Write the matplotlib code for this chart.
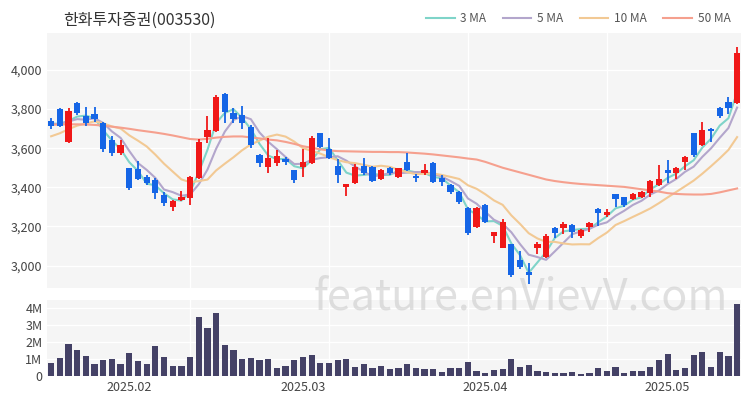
import numpy as np
import matplotlib
matplotlib.use("Agg")
import matplotlib.pyplot as plt

plt.rcParams['font.family'] = ['Noto Sans CJK KR', 'DejaVu Sans']

title = "한화투자증권(003530)"

opens = [3740, 3800, 3630, 3830, 3764, 3774, 3728, 3641, 3574, 3497,
         3492, 3451, 3436, 3359, 3297, 3333, 3343, 3446, 3656, 3689,
         3877, 3780, 3770, 3708, 3564, 3503, 3523, 3544, 3487, 3503,
         3523, 3677, 3595, 3508, 3400, 3420, 3508, 3503, 3441, 3497,
         3451, 3528, 3456, 3472, 3523, 3446, 3410, 3374, 3292, 3195,
         3308, 3149, 3092, 3108, 3026, 2969, 3092, 3041, 3190, 3190,
         3205, 3149, 3195, 3287, 3256, 3364, 3349, 3338, 3349, 3369,
         3410, 3487, 3472, 3528, 3677, 3615, 3700, 3805, 3836, 3831]
closes = [3713, 3715, 3790, 3780, 3730, 3749, 3595, 3574, 3615, 3395,
          3441, 3420, 3369, 3318, 3328, 3349, 3451, 3631, 3692, 3863,
          3786, 3749, 3728, 3615, 3523, 3549, 3559, 3528, 3436, 3528,
          3651, 3605, 3549, 3461, 3415, 3503, 3472, 3431, 3487, 3472,
          3497, 3487, 3446, 3487, 3426, 3426, 3374, 3323, 3165, 3292,
          3220, 3169, 3220, 2949, 2990, 2949, 3108, 3149, 3164, 3210,
          3169, 3180, 3215, 3267, 3272, 3338, 3308, 3364, 3374, 3431,
          3441, 3472, 3497, 3554, 3564, 3692, 3690, 3764, 3805, 4087]
highs = [3755, 3805, 3805, 3835, 3810, 3810, 3733, 3660, 3640, 3500,
         3533, 3462, 3450, 3375, 3333, 3380, 3456, 3646, 3764, 3872,
         3880, 3805, 3815, 3720, 3570, 3651, 3590, 3555, 3490, 3595,
         3660, 3680, 3651, 3545, 3418, 3518, 3548, 3508, 3492, 3505,
         3500, 3574, 3470, 3518, 3528, 3462, 3415, 3380, 3297, 3297,
         3313, 3172, 3240, 3112, 3072, 3015, 3118, 3160, 3195, 3220,
         3210, 3185, 3220, 3292, 3290, 3368, 3352, 3370, 3380, 3438,
         3513, 3540, 3503, 3558, 3680, 3733, 3702, 3810, 3862, 4118]
lows = [3700, 3710, 3625, 3770, 3713, 3735, 3580, 3560, 3565, 3385,
        3436, 3410, 3340, 3305, 3280, 3328, 3308, 3440, 3626, 3685,
        3728, 3730, 3700, 3600, 3502, 3472, 3510, 3513, 3420, 3451,
        3518, 3600, 3545, 3420, 3355, 3415, 3465, 3428, 3436, 3465,
        3446, 3482, 3425, 3465, 3420, 3405, 3365, 3315, 3155, 3190,
        3215, 3115, 3088, 2940, 2980, 2908, 3060, 3036, 3140, 3160,
        3140, 3140, 3170, 3200, 3250, 3300, 3300, 3335, 3345, 3350,
        3405, 3420, 3440, 3490, 3555, 3610, 3630, 3755, 3775, 3825]
volumes = [0.74, 1.08, 1.88, 1.54, 1.18, 0.68, 0.92, 1.00, 0.72, 1.32,
           0.86, 0.72, 1.78, 1.12, 0.60, 0.58, 1.14, 3.44, 2.80, 3.70,
           1.84, 1.54, 1.00, 1.08, 0.94, 1.02, 0.48, 0.58, 0.92, 1.12,
           1.24, 0.76, 0.76, 0.92, 1.00, 0.50, 0.68, 0.44, 0.58, 0.40,
           0.44, 0.72, 0.48, 0.40, 0.40, 0.24, 0.44, 0.44, 0.84, 0.32,
           0.20, 0.38, 0.40, 1.00, 0.54, 0.64, 0.32, 0.24, 0.16, 0.18,
           0.24, 0.12, 0.20, 0.48, 0.32, 0.50, 0.16, 0.32, 0.28, 0.50,
           0.92, 1.30, 0.36, 0.48, 1.24, 1.40, 0.52, 1.42, 1.16, 4.20]
# closes before the first visible day, for the short moving averages
prior_closes = [3560, 3580, 3600, 3620, 3640, 3700, 3730, 3720, 3745]
ma50 = [3720, 3721, 3722, 3722, 3721, 3719, 3715, 3710, 3705, 3699,
        3692, 3686, 3680, 3673, 3665, 3656, 3647, 3644, 3648, 3654,
        3658, 3660, 3660, 3655, 3650, 3644, 3640, 3632, 3622, 3610,
        3602, 3594, 3588, 3585, 3584, 3583, 3582, 3581, 3581, 3580,
        3580, 3578, 3575, 3572, 3568, 3563, 3558, 3553, 3547, 3542,
        3530, 3515, 3500, 3488, 3476, 3464, 3452, 3440, 3432, 3426,
        3421, 3417, 3414, 3411, 3408, 3405, 3402, 3396, 3390, 3384,
        3378, 3370, 3366, 3364, 3363, 3363, 3366, 3374, 3384, 3394]
tick_pos = [9, 29, 50, 71]
tick_labels = ["2025.02", "2025.03", "2025.04", "2025.05"]
ma_names = ["3 MA", "5 MA", "10 MA", "50 MA"]
ma_colors = ["#7fd4c9", "#b3a6cc", "#f2c994", "#f5a08e"]

o = np.array(opens)
c = np.array(closes)
h = np.array(highs)
l = np.array(lows)
x = np.arange(len(c))
up = c >= o
red, blue = "#f01818", "#1565e6"
cols = np.where(up, red, blue)

allc = np.concatenate([prior_closes, c])
def sma(n):
    return np.convolve(allc, np.ones(n) / n, mode="valid")[-len(c):]

fig = plt.figure(figsize=(7.5, 4), dpi=100)
ax = fig.add_axes([0.063, 0.28, 0.925, 0.638])
axv = fig.add_axes([0.063, 0.06, 0.925, 0.19])

for a in (ax, axv):
    a.set_facecolor("#f5f5f5")
    for s in a.spines.values():
        s.set_visible(False)
    a.tick_params(length=0, labelsize=9, colors="#444")
    a.set_xlim(-0.45, 79.45)
    for gx in [16, 32, 48, 64]:
        a.axvline(gx, color="white", lw=1, zorder=0)

# moving averages
for n, name, col in zip([3, 5, 10], ma_names[:3], ma_colors[:3]):
    ax.plot(x, sma(n), color=col, lw=1.5, label=name, zorder=2)
ax.plot(x, ma50, color=ma_colors[3], lw=1.5, label=ma_names[3], zorder=2)

# candles
ax.vlines(x, l, h, colors=cols, lw=1.3, zorder=3)
body = np.maximum(np.abs(c - o), 4)
ax.bar(x, body, bottom=np.minimum(o, c), width=0.72, color=cols, zorder=4)

ax.set_ylim(2885, 4190)
ax.set_yticks([3000, 3200, 3400, 3600, 3800, 4000])
ax.set_yticklabels([f"{v:,}" for v in range(3000, 4001, 200)])
ax.grid(axis="y", color="white", lw=1)
ax.set_axisbelow(True)
ax.set_xticks([])

axv.bar(x, np.array(volumes) * 1e6, width=0.72, color="#444166", zorder=3)
axv.set_ylim(0, 4.45e6)
axv.set_yticks([0, 1e6, 2e6, 3e6, 4e6])
axv.set_yticklabels(["0", "1M", "2M", "3M", "4M"])
axv.grid(axis="y", color="white", lw=1)
axv.set_axisbelow(True)
axv.set_xticks(tick_pos)
axv.set_xticklabels(tick_labels)

fig.text(0.084, 0.948, title, fontsize=11.5, color="#333", va="center")
ax.legend(loc="lower right", bbox_to_anchor=(1.0, 0.99), ncol=4, frameon=False,
          fontsize=8.5, handlelength=2.4, columnspacing=1.4, handletextpad=0.5,
          labelcolor="#555")

fig.text(0.695, 0.255, "feature.enVievV.com", fontsize=31, color="#c8c8c8",
         alpha=0.55, ha="center", va="center", zorder=10)

fig.savefig("out.png", dpi=100)
